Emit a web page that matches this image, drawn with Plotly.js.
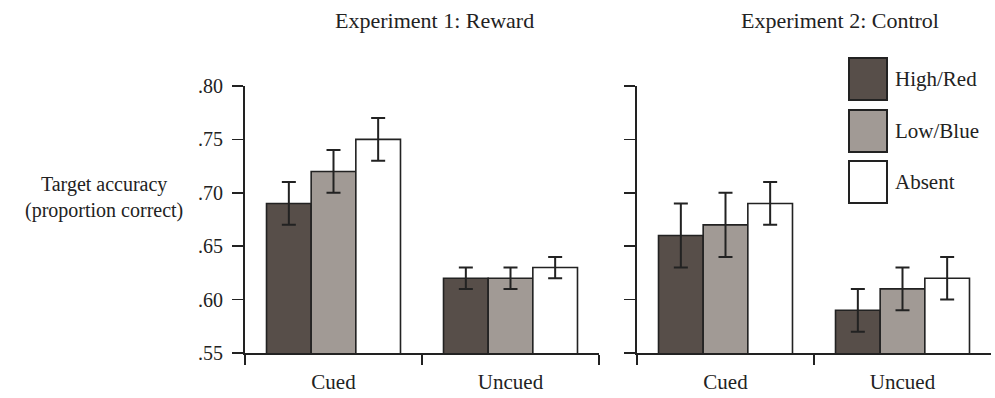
<!DOCTYPE html>
<html>
<head>
<meta charset="utf-8">
<script src="https://cdn.plot.ly/plotly-3.0.1.min.js"></script>
<style>html,body{margin:0;padding:0;background:#fff;}#chart{width:995px;height:398px;}</style>
</head>
<body>
<div id="chart"></div>
<script>
// ---- data ----
const categories = ['Cued', 'Uncued'];
const seriesNames = ['High/Red', 'Low/Blue', 'Absent'];
const exp1High = [0.69, 0.62];
const exp1Low = [0.72, 0.62];
const exp1Absent = [0.75, 0.63];
const exp1HighErr = [0.02, 0.01];
const exp1LowErr = [0.02, 0.01];
const exp1AbsentErr = [0.02, 0.01];
const exp2High = [0.66, 0.59];
const exp2Low = [0.67, 0.61];
const exp2Absent = [0.69, 0.62];
const exp2HighErr = [0.03, 0.02];
const exp2LowErr = [0.03, 0.02];
const exp2AbsentErr = [0.02, 0.02];
const yTickVals = [0.55, 0.60, 0.65, 0.70, 0.75, 0.80];
const yTickText = ['.55', '.60', '.65', '.70', '.75', '.80'];
const panelTitles = ['Experiment 1: Reward', 'Experiment 2: Control'];
const yTitle = 'Target accuracy<br>(proportion correct)';

// ---- style ----
const colors = ['#574e49', '#a19a95', '#ffffff'];
const ink = '#222222';
const font = 'Liberation Serif, Times New Roman, serif';
const W = 995, H = 398, plotTop = 86, plotBottom = 353;
const px = x => x / W;
const py = y => (plotBottom - y) / (plotBottom - plotTop);

function mk(vals, errs, i, xa, ya) {
  return {
    type: 'bar', x: categories, y: vals, name: seriesNames[i],
    xaxis: xa, yaxis: ya, showlegend: false,
    marker: {color: colors[i], line: {color: ink, width: 1.6}},
    error_y: {type: 'data', array: errs, visible: true, color: ink, thickness: 2, width: 7}
  };
}
const data = [
  mk(exp1High, exp1HighErr, 0, 'x', 'y'),
  mk(exp1Low, exp1LowErr, 1, 'x', 'y'),
  mk(exp1Absent, exp1AbsentErr, 2, 'x', 'y'),
  mk(exp2High, exp2HighErr, 0, 'x2', 'y2'),
  mk(exp2Low, exp2LowErr, 1, 'x2', 'y2'),
  mk(exp2Absent, exp2AbsentErr, 2, 'x2', 'y2')
];

const xBase = {
  showline: true, linecolor: ink, linewidth: 2, ticks: 'outside', tickson: 'boundaries',
  ticklen: 10, tickwidth: 1.5, tickcolor: ink, showgrid: false, zeroline: false,
  tickfont: {family: font, size: 21, color: ink}, ticklabelstandoff: 9, fixedrange: true
};
const yBase = {
  range: [0.55, 0.80], showline: true, linecolor: ink, linewidth: 2, ticks: 'outside',
  ticklen: 11, tickwidth: 1.5, tickcolor: ink, showgrid: false, zeroline: false,
  tickmode: 'array', tickvals: yTickVals, ticktext: yTickText,
  tickfont: {family: font, size: 20, color: ink}, ticklabelstandoff: 5, fixedrange: true
};

const shapes = [], annotations = [];
const boxes = [[58, 100], [110, 152], [161, 203]];
boxes.forEach((b, i) => {
  shapes.push({type: 'rect', xref: 'paper', yref: 'paper', x0: px(849), x1: px(887),
    y0: py(b[1]), y1: py(b[0]), fillcolor: colors[i], line: {color: ink, width: 2}});
  annotations.push({xref: 'paper', yref: 'paper', x: px(893), y: py((b[0] + b[1]) / 2),
    xanchor: 'left', yanchor: 'middle', text: seriesNames[i], showarrow: false,
    font: {family: font, size: 21, color: ink}});
});
annotations.push({xref: 'paper', yref: 'paper', x: px(434), y: py(20), xanchor: 'center', yanchor: 'middle',
  text: panelTitles[0], showarrow: false, font: {family: font, size: 22, color: ink}});
annotations.push({xref: 'paper', yref: 'paper', x: px(840), y: py(20), xanchor: 'center', yanchor: 'middle',
  text: panelTitles[1], showarrow: false, font: {family: font, size: 22, color: ink}});
annotations.push({xref: 'paper', yref: 'paper', x: px(104), y: py(197), xanchor: 'center', yanchor: 'middle',
  text: yTitle, showarrow: false, align: 'center', font: {family: font, size: 20, color: ink}});

const layout = {
  width: W, height: H, margin: {l: 0, r: 0, t: plotTop, b: H - plotBottom},
  paper_bgcolor: '#fff', plot_bgcolor: '#fff',
  barmode: 'group', bargap: 0.243, bargroupgap: 0,
  xaxis: Object.assign({}, xBase, {domain: [px(245), px(599)], anchor: 'y'}),
  xaxis2: Object.assign({}, xBase, {domain: [px(637), px(991)], anchor: 'y2'}),
  yaxis: Object.assign({}, yBase, {domain: [0, 1], anchor: 'x'}),
  yaxis2: Object.assign({}, yBase, {domain: [0, 1], anchor: 'x2', showticklabels: false}),
  shapes: shapes, annotations: annotations, showlegend: false
};
Plotly.newPlot('chart', data, layout, {displayModeBar: false, staticPlot: true});
</script>
</body>
</html>
